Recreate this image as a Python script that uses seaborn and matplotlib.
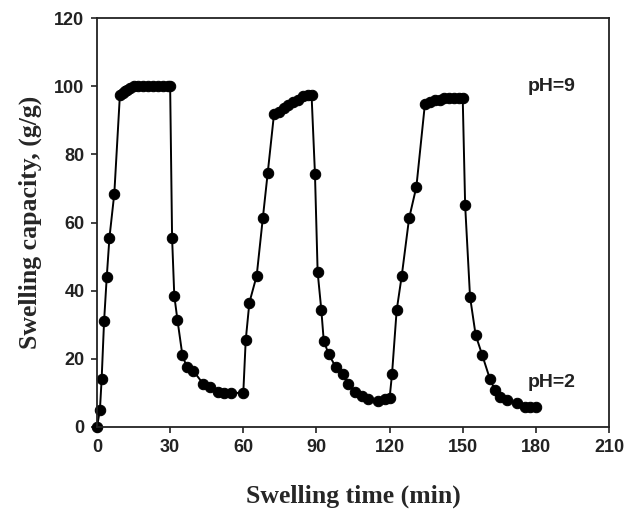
import matplotlib
matplotlib.use("Agg")
import matplotlib.pyplot as plt
import seaborn as sns
import pandas as pd

time_min = [0, 1.2, 1.9, 2.9, 4, 5.1, 7.1, 9.4, 10.5, 11.5, 12.5, 13.5, 15, 17, 19, 21, 23, 25, 27, 29, 30,
            30.8, 31.7, 33, 35, 36.8, 39.5, 43.6, 46.3, 49.8, 52, 55, 60,
            61, 62.5, 65.5, 68, 70, 72.6, 74.5, 76.5, 78.5, 80.5, 82.5, 84.5, 86.5, 88,
            89.4, 90.5, 92, 93, 95, 98, 100.8, 103.1, 105.8, 108.6, 111.3, 115.4, 118.1, 120,
            121, 122.9, 125, 128, 131, 134.5, 136.5, 138.5, 140.5, 142.5, 144.5, 146.5, 148.5, 150,
            151, 153, 155.3, 158, 161.2, 163.2, 165.3, 168, 172.2, 175.5, 177.6, 180]
capacity = [0, 5, 14, 31, 44, 55.5, 68.5, 97.5, 98, 98.5, 99, 99.5, 100, 100, 100, 100, 100, 100, 100, 100, 100,
            55.5, 38.5, 31.4, 21.2, 17.6, 16.5, 12.6, 11.7, 10.2, 10, 10, 10,
            25.5, 36.5, 44.4, 61.2, 74.4, 91.8, 92.5, 93.5, 94.5, 95.5, 96, 97, 97.5, 97.5,
            74.2, 45.4, 34.4, 25.3, 21.4, 17.5, 15.5, 12.6, 10.2, 9.2, 8.2, 7.7, 8.2, 8.4,
            15.5, 34.2, 44.4, 61.2, 70.5, 94.8, 95.5, 95.8, 96, 96.5, 96.5, 96.5, 96.5, 96.5,
            65, 38.2, 27, 21.1, 14, 10.9, 8.9, 7.9, 6.9, 6, 6, 6]
x_ticks = [0, 30, 60, 90, 120, 150, 180, 210]
y_ticks = [0, 20, 40, 60, 80, 100, 120]
annotations = [("pH=9", 176.5, 100), ("pH=2", 176.5, 13)]

df = pd.DataFrame({"t": time_min, "s": capacity})

sns.set_style("ticks")
fig = plt.figure(figsize=(6.27, 5.22), dpi=100)
ax = fig.add_axes([0.1547, 0.182, 0.8166, 0.7835])
sns.lineplot(data=df, x="t", y="s", estimator=None, sort=False, color="black",
             linewidth=1.4, marker="o", markersize=7.5, markeredgecolor="black",
             markerfacecolor="black", ax=ax)
for ln in ax.lines:
    ln.set_clip_on(False)

ax.set_xlim(0, 210)
ax.set_ylim(0, 120)
ax.set_xticks(x_ticks)
ax.set_yticks(y_ticks)
for sp in ax.spines.values():
    sp.set_visible(True)
    sp.set_linewidth(1.3)
    sp.set_color("#222222")
ax.tick_params(direction="out", length=4, width=1.2, colors="#222222", pad=5)
for lab in ax.get_xticklabels() + ax.get_yticklabels():
    lab.set_fontfamily("Liberation Sans")
    lab.set_fontweight("bold")
    lab.set_fontsize(13)
    lab.set_color("#222222")

ax.set_xlabel("Swelling time (min)", fontfamily="Liberation Serif", fontweight="bold",
              fontsize=18.5, labelpad=20)
ax.set_ylabel("Swelling capacity, (g/g)", fontfamily="Liberation Serif", fontweight="bold",
              fontsize=18.5, labelpad=9)
for txt, x, y in annotations:
    ax.text(x, y, txt, fontfamily="Liberation Sans", fontweight="bold", fontsize=14,
            va="center", ha="left", color="#222222")

fig.savefig("out.png", dpi=100)
